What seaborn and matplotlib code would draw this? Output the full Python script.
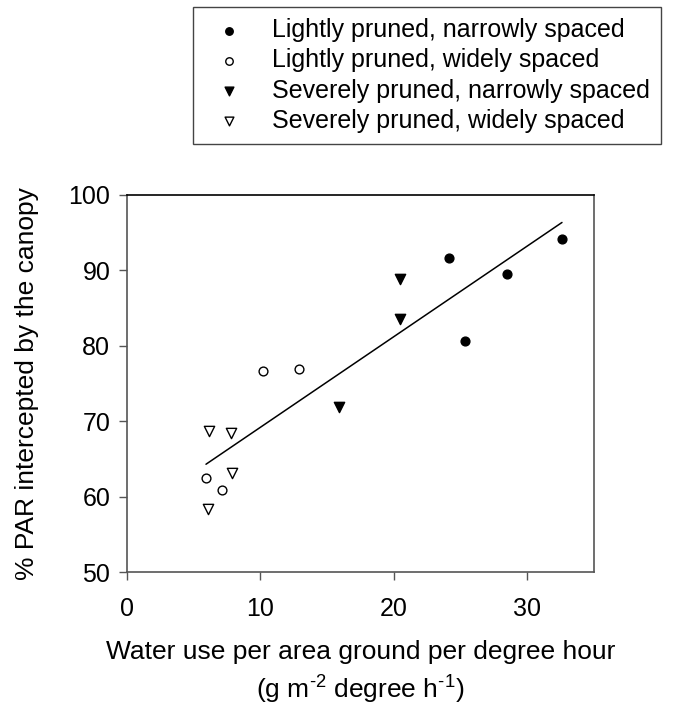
import numpy as np
import pandas as pd
import matplotlib
matplotlib.use("Agg")
import matplotlib.pyplot as plt
import seaborn as sns

groups = ["Lightly pruned, narrowly spaced",
          "Lightly pruned, widely spaced",
          "Severely pruned, narrowly spaced",
          "Severely pruned, widely spaced"]
ln_x = [24.1, 28.5, 25.35, 32.6]
ln_y = [91.7, 89.5, 80.7, 94.2]
lw_x = [5.92, 7.10, 10.22, 12.92]
lw_y = [62.5, 60.9, 76.7, 76.9]
sn_x = [15.9, 20.47, 20.47]
sn_y = [71.9, 88.8, 83.5]
sw_x = [6.16, 7.79, 7.86, 6.07]
sw_y = [68.7, 68.4, 63.1, 58.3]
x_ticks = [0, 10, 20, 30]
y_ticks = [50, 60, 70, 80, 90, 100]

sns.set_style("ticks")
plt.rcParams['font.family'] = ['Liberation Sans', 'DejaVu Sans']
plt.rcParams['mathtext.fontset'] = 'custom'
plt.rcParams['mathtext.rm'] = 'Liberation Sans'
for k in ['text.color', 'axes.labelcolor', 'xtick.labelcolor', 'ytick.labelcolor']:
    plt.rcParams[k] = 'black'

frames = []
for g, xs, ys in zip(groups, [ln_x, lw_x, sn_x, sw_x], [ln_y, lw_y, sn_y, sw_y]):
    frames.append(pd.DataFrame({"x": xs, "y": ys, "group": g}))
df = pd.concat(frames, ignore_index=True)

markers = ["o", "o", "v", "v"]
faces = ["black", "white", "black", "white"]
sizes = [40, 40, 55, 55]

fig = plt.figure(figsize=(6.84, 7.06), dpi=100)
ax = fig.add_axes([127/684, 1 - 572/706, (594 - 127)/684, (572 - 195)/706])

sns.regplot(data=df, x="x", y="y", scatter=False, ci=None, truncate=True,
            line_kws=dict(color="black", lw=1.1), ax=ax)

for g, m, fc, sz in zip(groups, markers, faces, sizes):
    sub = df[df["group"] == g]
    sns.scatterplot(data=sub, x="x", y="y", marker=m, color=fc, edgecolor="black",
                    linewidth=1.0, s=sz, label=g, ax=ax, zorder=3)

ax.set_xlim(0, 35)
ax.set_ylim(50, 100)
ax.set_xticks(x_ticks)
ax.set_yticks(y_ticks)
ax.tick_params(axis="both", direction="out", length=6, width=1.0, labelsize=18,
               color="#555555")
ax.tick_params(axis="x", pad=12)
ax.tick_params(axis="y", pad=6)
for side in ["left", "bottom", "right"]:
    ax.spines[side].set_color("#555555")
    ax.spines[side].set_linewidth(1.2)
ax.spines["top"].set_color("black")
ax.spines["top"].set_linewidth(1.2)

ax.set_xlabel("Water use per area ground per degree hour\n"
              r"(g m$^{\text{-2}}$ degree h$^{\text{-1}}$)",
              fontsize=19, labelpad=14, linespacing=1.3)
ax.set_ylabel("% PAR intercepted by the canopy", fontsize=19, labelpad=21)

handles, labels = ax.get_legend_handles_labels()
leg = ax.legend(handles, labels, loc="upper right",
                bbox_to_anchor=(661/684, 1 - 7/706), bbox_transform=fig.transFigure,
                fontsize=18, frameon=True, fancybox=False, framealpha=1,
                edgecolor="#444444", markerscale=0.85, borderpad=0.45,
                handlelength=2.0, handletextpad=0.7, labelspacing=0.25,
                borderaxespad=0)
leg.get_frame().set_linewidth(1.0)

fig.savefig("out.png", dpi=100)
